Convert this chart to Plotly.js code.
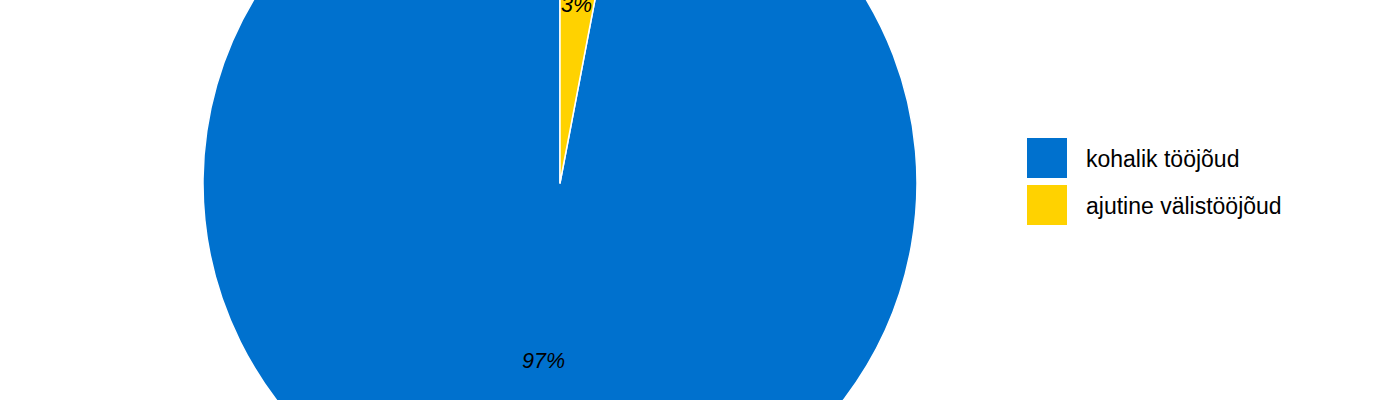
<!DOCTYPE html>
<html>
<head>
<meta charset="utf-8">
<script src="https://cdn.plot.ly/plotly-3.0.1.min.js"></script>
<style>
  html, body { margin: 0; padding: 0; overflow: hidden; background: #fff; }
  #wrap { position: relative; width: 1400px; height: 400px; overflow: hidden; }
  #Joonis { position: absolute; left: 0; top: -174px; width: 1400px; height: 714px; }
</style>
</head>
<body>
<div id="wrap"><div id="Joonis"></div></div>
<script>
var sildid = ["kohalik tööjõud", "ajutine välistööjõud"];
var osakaal = [97, 3];
var varvid = ["#0071CE", "#FFD200"];

var laius = 1400, korgus = 714;
var keskX = 560, raadius = 357;
var fontPere = "Liberation Sans, Arial, sans-serif";

// ajutine sektor algab kell 12-st päripäeva, kohalik tuleb selle järel
var kokku = osakaal.reduce(function (a, b) { return a + b; }, 0);
var poore = osakaal[1] / kokku * 360;

// protsendisildid poole raadiuse peale, sektori keskjoonele
var nurgad = [];
nurgad[1] = (osakaal[1] / kokku / 2) * 2 * Math.PI;
nurgad[0] = (osakaal[1] / kokku + osakaal[0] / kokku / 2) * 2 * Math.PI;

var annotations = osakaal.map(function (v, i) {
    var th = nurgad[i];
    return {
        xref: "paper", yref: "paper",
        x: (keskX + 0.5 * raadius * Math.sin(th)) / laius,
        y: 0.5 + 0.5 * raadius * Math.cos(th) / korgus,
        xanchor: "center", yanchor: "middle",
        showarrow: false,
        text: Math.round(v / kokku * 100) + "%",
        font: { family: fontPere, size: 21.5, color: "#000000", style: "italic" }
    };
});

var data = [{
    type: "pie",
    labels: sildid,
    values: osakaal,
    sort: false,
    direction: "clockwise",
    rotation: poore,
    marker: { colors: varvid, line: { color: "#ffffff", width: 1.5 } },
    textinfo: "none",
    domain: { x: [(keskX - raadius) / laius, (keskX + raadius) / laius], y: [0, 1] },
    hoverinfo: "none"
}];

var layout = {
    width: laius,
    height: korgus,
    margin: { l: 0, r: 0, t: 0, b: 0 },
    paper_bgcolor: "#ffffff",
    showlegend: true,
    annotations: annotations,
    legend: {
        x: 1027 / laius,
        y: 1 - (138 + 174) / korgus,
        xanchor: "left",
        yanchor: "top",
        font: { family: fontPere, size: 23, color: "#000000" },
        bgcolor: "rgba(0,0,0,0)"
    }
};

Plotly.newPlot("Joonis", data, layout, { staticPlot: true, displayModeBar: false }).then(function (gd) {
    // legendi ruudud suuremaks ja ridade vahe nagu originaalis
    var leg = gd.querySelector(".legend");
    if (!leg) return;
    leg.setAttribute("transform", "translate(1027," + (138 + 174) + ")");
    var sb = leg.querySelector(".scrollbox");
    if (sb) sb.removeAttribute("clip-path");
    var read = leg.querySelectorAll(".traces");
    read.forEach(function (g, i) {
        g.setAttribute("transform", "translate(0," + (20 + i * 47) + ")");
        var p = g.querySelector(".legendpie path, path.legendpie");
        if (p) {
            p.setAttribute("transform", "translate(20,0) scale(3.333)");
            p.style.strokeWidth = "0";
        }
        var t = g.querySelector("text.legendtext");
        if (t) {
            t.setAttribute("x", "59");
            t.setAttribute("y", "9.4");
        }
    });
});
</script>
</body>
</html>
